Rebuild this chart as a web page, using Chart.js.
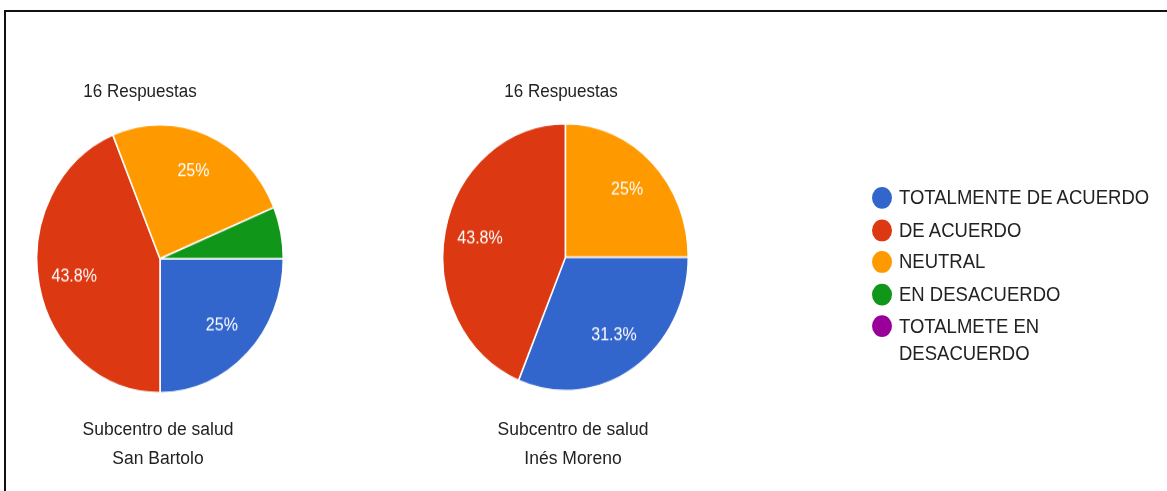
<!DOCTYPE html>
<html>
<head>
<meta charset="utf-8">
<script src="https://cdn.jsdelivr.net/npm/chart.js@4"></script>
<style>
  html, body { margin:0; padding:0; background:#fff; }
  body { width:1167px; height:491px; position:relative; overflow:hidden;
         font-family:"Liberation Sans", Arial, sans-serif; color:#222; }
  .frame { position:absolute; left:4px; top:10px; right:-10px; bottom:-10px;
           border-top:2px solid #111; border-left:2px solid #111; }
  /* the source picture is stretched a little vertically */
  .stage { position:absolute; left:0; top:0; width:1167px; height:452px;
           transform:scaleY(1.087); transform-origin:0 0; }
  .stage canvas { position:absolute; }
  .txt { position:absolute; white-space:nowrap; line-height:20px; text-align:center; transform:translateX(-50%); }
  .ttl { font-size:17px; }
  .sub { font-size:17.5px; }
  #legend { position:absolute; left:872px; top:0; }
  .leg-row { position:absolute; left:0; white-space:nowrap; font-size:18.5px; line-height:24.5px; }
  .leg-dot { position:absolute; left:0; width:20px; height:20px; border-radius:50%; }
  .leg-lbl { position:absolute; left:27px; }
</style>
</head>
<body>
<div class="frame"></div>
<div class="stage">
  <div class="txt ttl" style="left:140px; top:74px;">16 Respuestas</div>
  <div class="txt ttl" style="left:561px; top:74px;">16 Respuestas</div>

  <canvas id="pieBartolo" width="248" height="248" style="left:36px; top:114px;"></canvas>
  <canvas id="pieMoreno" width="247" height="247" style="left:442px; top:113px;"></canvas>

  <div class="txt sub" style="left:158px; top:384px;">Subcentro de salud</div>
  <div class="txt sub" style="left:158px; top:411px;">San Bartolo</div>
  <div class="txt sub" style="left:573px; top:384px;">Subcentro de salud</div>
  <div class="txt sub" style="left:573px; top:411px;">Inés Moreno</div>

  <div id="legend"></div>
</div>

<script>
// ---- data ----
const CATEGORIES = ['TOTALMENTE DE ACUERDO', 'DE ACUERDO', 'NEUTRAL', 'EN DESACUERDO', 'TOTALMETE EN DESACUERDO'];
const SAN_BARTOLO = [4, 7, 4, 1, 0];
const INES_MORENO = [5, 7, 4, 0, 0];
const SLICE_COLORS = ['#3366cc', '#dc3912', '#ff9900', '#109618', '#990099'];

// white percentage text inside each slice (small slices stay unlabeled)
const sliceLabels = {
  id: 'sliceLabels',
  afterDatasetsDraw(chart){
    const ctx = chart.ctx;
    const data = chart.data.datasets[0].data;
    const total = data.reduce((a, b) => a + b, 0);
    chart.getDatasetMeta(0).data.forEach((arc, i) => {
      const frac = data[i] / total;
      if(frac < 0.1) return;
      const p = arc.getProps(['x','y','startAngle','endAngle','outerRadius'], true);
      const mid = (p.startAngle + p.endAngle) / 2;
      const r = p.outerRadius * 0.71;
      ctx.save();
      ctx.font = '16px "Liberation Sans", Arial, sans-serif';
      ctx.fillStyle = '#fff';
      ctx.textAlign = 'center';
      ctx.textBaseline = 'middle';
      ctx.fillText(Math.round(frac * 1000) / 10 + '%', p.x + Math.cos(mid) * r, p.y + Math.sin(mid) * r);
      ctx.restore();
    });
  }
};

function pieChart(id, values){
  return new Chart(document.getElementById(id), {
    type:'pie',
    data:{labels:CATEGORIES, datasets:[{data:values, backgroundColor:SLICE_COLORS, borderColor:'#fff', borderWidth:1.5}]},
    options:{
      responsive:false, animation:false, devicePixelRatio:1,
      rotation:90,
      layout:{padding:0},
      plugins:{legend:{display:false}, tooltip:{enabled:false}, title:{display:false}}
    },
    plugins:[sliceLabels]
  });
}

pieChart('pieBartolo', SAN_BARTOLO);
pieChart('pieMoreno', INES_MORENO);

// ---- legend ----
const LEGEND_ROWS = [
  ['TOTALMENTE DE ACUERDO'], ['DE ACUERDO'], ['NEUTRAL'], ['EN DESACUERDO'], ['TOTALMETE EN', 'DESACUERDO']
];
const legend = document.getElementById('legend');
let y = 170;
LEGEND_ROWS.forEach((lines, i) => {
  const row = document.createElement('div');
  row.className = 'leg-row';
  row.style.top = y + 'px';
  row.innerHTML = `<span class="leg-dot" style="top:2px; background:${SLICE_COLORS[i]}"></span>` +
    `<span class="leg-lbl">${lines.join('<br>')}</span>`;
  legend.appendChild(row);
  y += 29.5;
});
</script>
</body>
</html>
